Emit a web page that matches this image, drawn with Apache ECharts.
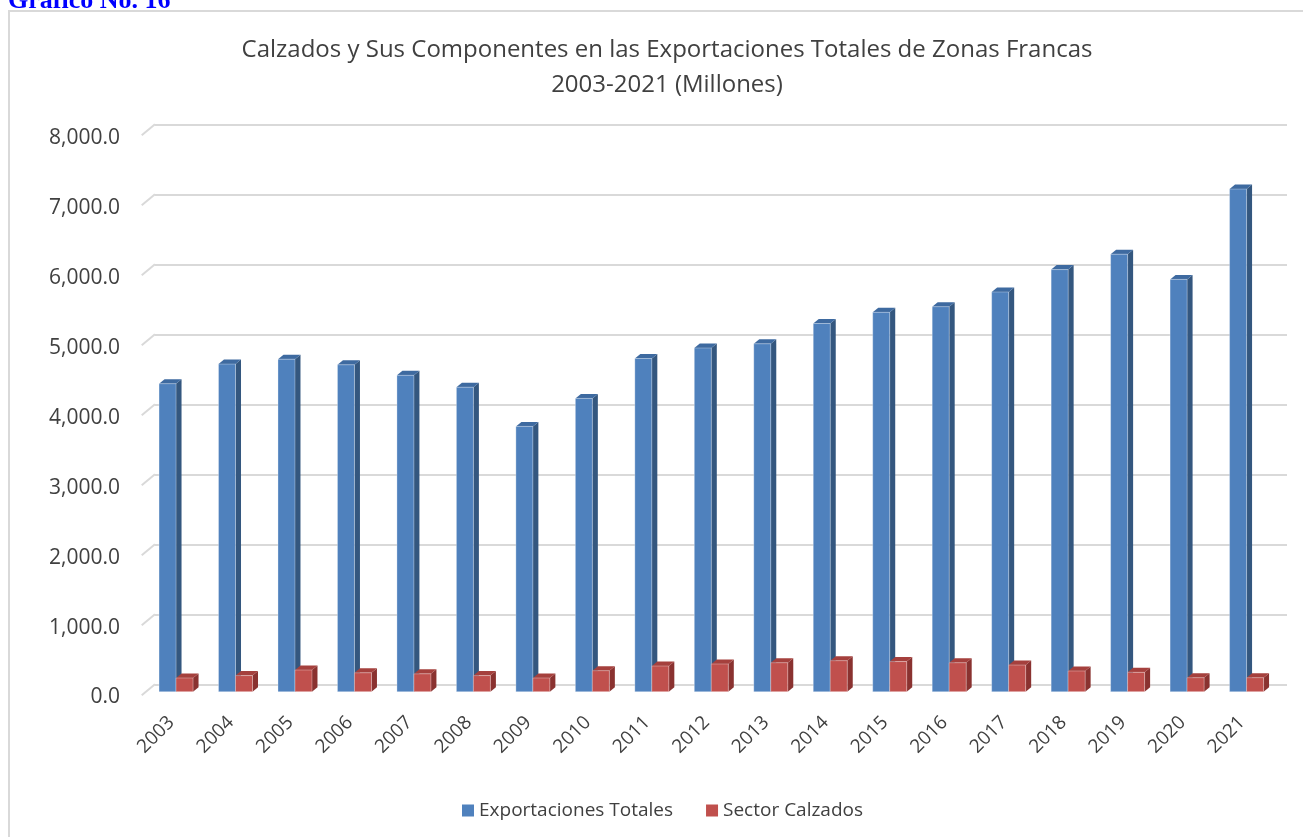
<!DOCTYPE html>
<html>
<head>
<meta charset="utf-8">
<script src="https://cdn.jsdelivr.net/npm/echarts@6/dist/echarts.min.js"></script>
<style>
html,body{margin:0;padding:0;background:#fff;overflow:hidden;}
#frame{position:absolute;left:8px;top:10px;width:1400px;height:900px;border:2px solid #d9d9d9;box-sizing:border-box;}
#chart{position:absolute;left:0;top:0;width:1303px;height:837px;}
</style>
</head>
<body>
<div id="frame"></div>
<div id="chart"></div>
<script>
const years = ['2003','2004','2005','2006','2007','2008','2009','2010','2011','2012','2013','2014','2015','2016','2017','2018','2019','2020','2021'];
const exportacionesTotales = [4400,4680,4750,4670,4520,4350,3790,4190,4760,4910,4970,5260,5420,5500,5710,6030,6250,5890,7180];
const sectorCalzados = [196,230,310,270,255,230,196,300,367,396,414,443,430,414,381,296,277,200,200];
const yTicks = [0,1000,2000,3000,4000,5000,6000,7000,8000];

const FONT = 'Open Sans';
const TXT = '#404040';

function barRenderer(isFirst, front, side, topC) {
  return function (params, api) {
    const i = api.value(0), v = api.value(1);
    const base = api.coord([i, 0]);
    const tp = api.coord([i, v]);
    const w = 17, dx = 5.5, dy = 4.5;
    const x0 = isFirst ? base[0] - w : base[0];
    const x1 = x0 + w;
    const yb = base[1], yt = tp[1];
    return {
      type: 'group',
      children: [
        {type: 'polygon', shape: {points: [[x1, yb], [x1 + dx, yb - dy], [x1 + dx, yt - dy], [x1, yt]]}, style: {fill: side}},
        {type: 'polygon', shape: {points: [[x0, yt], [x0 + dx, yt - dy], [x1 + dx, yt - dy], [x1, yt]]}, style: {fill: topC}},
        {type: 'rect', shape: {x: x0, y: yt, width: w, height: yb - yt}, style: {fill: front, stroke: 'rgba(255,255,255,0.3)', lineWidth: 1}}
      ]
    };
  };
}

const fmt = v => v.toLocaleString('en-US', {minimumFractionDigits: 1, maximumFractionDigits: 1});

const chart = echarts.init(document.getElementById('chart'));
chart.setOption({
  animation: false,
  textStyle: {fontFamily: FONT},
  title: [
    {
      text: 'Calzados y Sus Componentes en las Exportaciones Totales de Zonas Francas\n2003-2021 (Millones)',
      left: 662, top: 28, textAlign: 'center',
      textStyle: {fontFamily: FONT, fontSize: 24, fontWeight: 'normal', color: TXT, lineHeight: 35}
    },
    {
      text: 'Gráfico No. 16',
      left: 3, top: -17,
      textStyle: {fontFamily: 'Liberation Serif', fontSize: 26, fontWeight: 'bold', color: '#0000ff'}
    }
  ],
  legend: {
    left: 457, top: 796,
    itemWidth: 12, itemHeight: 12, itemGap: 33,
    icon: 'rect',
    textStyle: {fontFamily: FONT, fontSize: 19, color: TXT},
    data: ['Exportaciones Totales', 'Sector Calzados']
  },
  grid: [
    {left: 155, top: 124.3, width: 1132, height: 560},
    {left: 146.3, top: 131.7, width: 1130, height: 560},
    {left: 141.7, top: 138.5, width: 1130, height: 559}
  ],
  xAxis: [
    {gridIndex: 0, type: 'value', min: 0, max: 1, show: false},
    {gridIndex: 1, type: 'category', data: years, show: false},
    {gridIndex: 2, type: 'category', data: years,
      axisLine: {show: false}, axisTick: {show: false},
      axisLabel: {rotate: 45, margin: 22, interval: 0, fontFamily: FONT, fontSize: 19, color: TXT}}
  ],
  yAxis: [
    {gridIndex: 0, type: 'value', min: 0, max: 8000, interval: 1000,
      axisLine: {show: false}, axisTick: {show: false}, axisLabel: {show: false},
      splitLine: {lineStyle: {color: '#d9d9d9', width: 2}}},
    {gridIndex: 1, type: 'value', min: 0, max: 8000, interval: 1000, show: false, splitLine: {show: false}},
    {gridIndex: 2, type: 'value', min: 0, max: 8000, interval: 1000,
      axisLine: {show: false}, axisTick: {show: false}, splitLine: {show: false},
      axisLabel: {margin: 21.7, fontFamily: FONT, fontSize: 21, color: TXT, formatter: fmt}}
  ],
  series: [
    {
      type: 'custom', xAxisIndex: 0, yAxisIndex: 0, silent: true,
      data: yTicks.map(v => [0, v]),
      renderItem: function (params, api) {
        const p = api.coord([0, api.value(1)]);
        return {type: 'line', shape: {x1: p[0], y1: p[1], x2: p[0] - 13.3, y2: p[1] + 11}, style: {stroke: '#d9d9d9', lineWidth: 2}};
      }
    },
    {
      name: 'Exportaciones Totales', type: 'custom', xAxisIndex: 1, yAxisIndex: 1,
      itemStyle: {color: '#4f81bd'},
      data: exportacionesTotales.map((v, i) => [i, v]),
      renderItem: barRenderer(true, '#4f81bd', '#34577f', '#3e6aa0')
    },
    {
      name: 'Sector Calzados', type: 'custom', xAxisIndex: 1, yAxisIndex: 1,
      itemStyle: {color: '#c0504d'},
      data: sectorCalzados.map((v, i) => [i, v]),
      renderItem: barRenderer(false, '#c0504d', '#8a3230', '#a5403d')
    }
  ]
});
</script>
</body>
</html>
